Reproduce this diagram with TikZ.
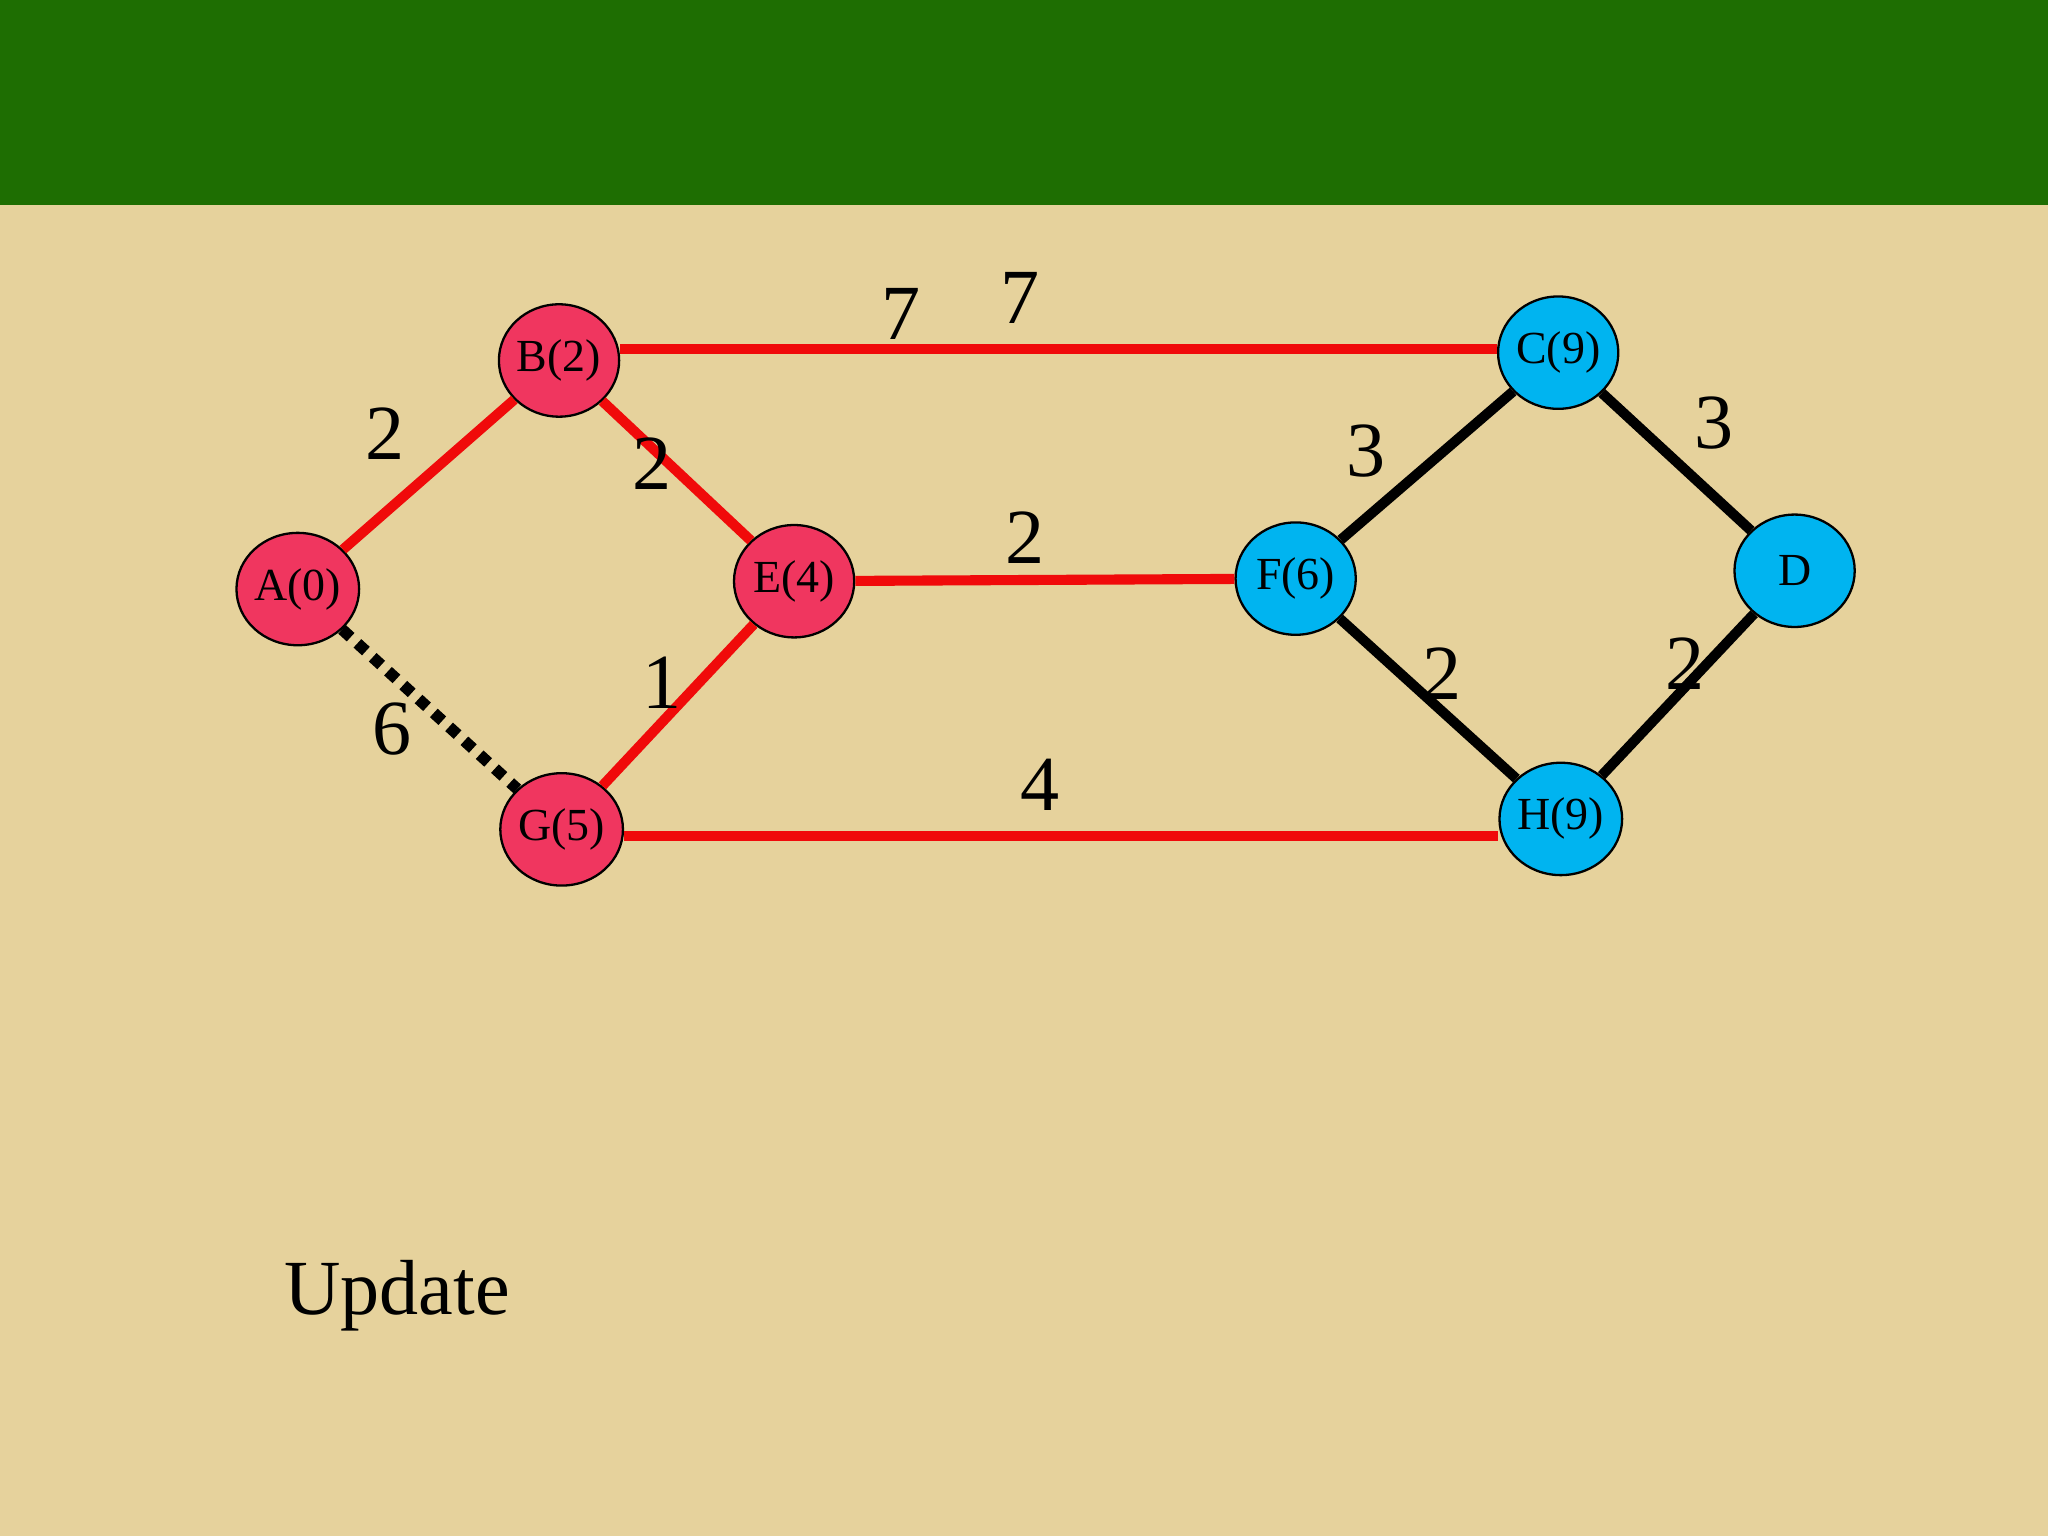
\documentclass[tikz,border=0pt]{standalone}
\usepackage{fontspec}
\setmainfont{Liberation Serif}
\usetikzlibrary{shapes.geometric}
\definecolor{bg}{HTML}{E6D29C}
\definecolor{band}{HTML}{1E6E02}
\definecolor{pk}{HTML}{F0365F}
\definecolor{cy}{HTML}{00B4F0}
\definecolor{rd}{HTML}{F00A0A}
\begin{document}
\begin{tikzpicture}[x=0.01cm,y=-0.01cm,
  vtx/.style={ellipse,draw=black,line width=0.5pt,minimum width=0.92cm,minimum height=0.86cm,inner sep=0pt,font=\fontsize{10}{12}\selectfont},
  pnode/.style={vtx,fill=pk},
  cnode/.style={vtx,fill=cy},
  redge/.style={rd,line width=2.2pt},
  bedge/.style={black,line width=2.2pt},
  lbl/.style={font=\fontsize{17}{20}\selectfont}]
\fill[bg] (0,0) rectangle (1568,1176);
\fill[band] (0,0) rectangle (1568,157);
\node[pnode] (A) at (228,451) {A(0)};
\node[pnode] (B) at (428,276) {B(2)};
\node[pnode] (E) at (608,445) {E(4)};
\node[pnode] (G) at (430,635) {G(5)};
\node[cnode] (F) at (992,443) {F(6)};
\node[cnode] (C) at (1193,270) {C(9)};
\node[cnode] (D) at (1374,437) {D};
\node[cnode] (H) at (1195,627) {H(9)};
\draw[redge] (A) -- (B);
\draw[redge] (B) -- (E);
\draw[redge] (G) -- (E);
\draw[redge] (B.east |- 0,267) -- (C.west |- 0,267);
\draw[redge] (E) -- (F);
\draw[redge] (G.east |- 0,640) -- (H.west |- 0,640);
\draw[black,line width=2.5pt,dotted] (A) -- (G);
\draw[bedge] (C) -- (F);
\draw[bedge] (C) -- (D);
\draw[bedge] (F) -- (H);
\draw[bedge] (H) -- (D);
\node[lbl] (l1) at (295,332) {2};
\node[lbl] (l2) at (499,355) {2};
\node[lbl] (l3) at (690,240) {7};
\node[lbl] (l4) at (781,228) {7};
\node[lbl] (l5) at (785,412) {2};
\node[lbl] (l6) at (507,523) {1};
\node[lbl] (l7) at (300,558) {6};
\node[lbl] (l8) at (796,601) {4};
\node[lbl] (l9) at (1046,345) {3};
\node[lbl] (l10) at (1312,324) {3};
\node[lbl] (l11) at (1104,516) {2};
\node[lbl] (l12) at (1290,508) {2};
\node[lbl] (up) at (304,992) {Update};
\end{tikzpicture}
\end{document}
